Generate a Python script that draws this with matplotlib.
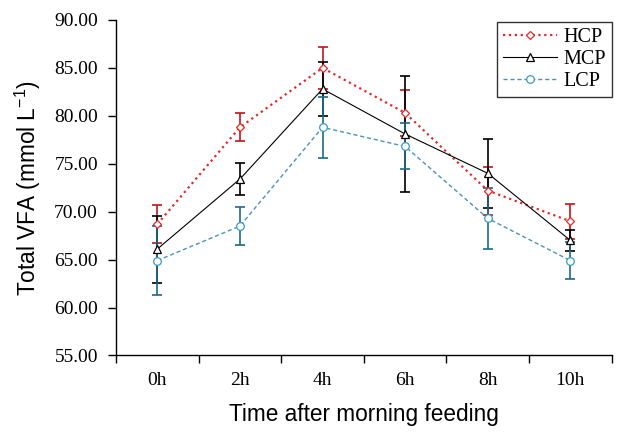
import numpy as np
import matplotlib
matplotlib.use('Agg')
import matplotlib.pyplot as plt

# Data
times = ['0h', '2h', '4h', '6h', '8h', '10h']
hcp = [68.7, 78.8, 85.0, 80.3, 72.2, 69.0]
hcp_err = [2.0, 1.45, 2.2, 2.4, 2.5, 1.85]
mcp = [66.1, 73.4, 82.8, 78.1, 74.0, 67.0]
mcp_err = [3.5, 1.7, 2.8, 6.0, 3.6, 1.05]
lcp = [64.9, 68.5, 78.8, 76.8, 69.3, 64.9]
lcp_err = [3.6, 2.0, 3.2, 2.4, 3.2, 1.9]

serif = 'Liberation Serif'
sans = 'Liberation Sans'

fig = plt.figure(figsize=(6.27, 4.33), dpi=100)
ax = fig.add_axes([0.185, 0.179, 0.7906, 0.775])

x = np.arange(len(times))

# HCP - red dotted, diamonds
ax.errorbar(x, hcp, yerr=hcp_err, fmt='none', ecolor='#c0141c',
            elinewidth=1.2, capsize=3.5, capthick=1.2, zorder=2)
ax.plot(x, hcp, linestyle=':', color='#e02a2a', linewidth=1.6,
        marker='D', markersize=4.5, markerfacecolor='white',
        markeredgecolor='#e02a2a', markeredgewidth=0.9, label='HCP', zorder=3)

# MCP - black solid, triangles
ax.errorbar(x, mcp, yerr=mcp_err, fmt='none', ecolor='black',
            elinewidth=1.2, capsize=3.5, capthick=1.2, zorder=2)
ax.plot(x, mcp, linestyle='-', color='black', linewidth=0.8,
        marker='^', markersize=5.5, markerfacecolor='white',
        markeredgecolor='black', markeredgewidth=0.9, label='MCP', zorder=3)

# LCP - blue dashed, circles
ax.errorbar(x, lcp, yerr=lcp_err, fmt='none', ecolor='#1d6b86',
            elinewidth=1.2, capsize=3.5, capthick=1.2, zorder=2)
ax.plot(x, lcp, linestyle=(0, (3, 2)), color='#4a94b8', linewidth=1.0,
        marker='o', markersize=5.5, markerfacecolor='white',
        markeredgecolor='#3a9ac4', markeredgewidth=0.9, label='LCP', zorder=3)

# axes styling
ax.set_xlim(-0.5, len(times) - 0.5)
ax.set_ylim(55, 90)
ax.set_yticks(np.arange(55, 90.1, 5))
ax.set_yticklabels(['%.2f' % v for v in np.arange(55, 90.1, 5)],
                   fontfamily=serif, fontsize=14)
ax.set_xticks(x)
ax.set_xticklabels(times, fontfamily=serif, fontsize=14)
ax.set_xticks(np.arange(-0.5, len(times)), minor=True)
ax.tick_params(axis='x', which='major', length=0, pad=12)
ax.tick_params(axis='x', which='minor', length=6, width=1, direction='out')
ax.tick_params(axis='y', length=6, width=1, direction='out', pad=7)

for side in ['top', 'right']:
    ax.spines[side].set_visible(False)
for side in ['left', 'bottom']:
    ax.spines[side].set_linewidth(1.0)

ax.set_xlabel('Time after morning feeding', fontfamily=sans, fontsize=16.3,
              labelpad=10)
ax.set_ylabel('Total VFA (mmol L$^{\\mathregular{-1}}$)', fontfamily=sans,
              fontsize=16.3, labelpad=8)

leg = ax.legend(loc='upper right', bbox_to_anchor=(1.0, 0.995),
                prop={'family': serif, 'size': 14.5}, frameon=True,
                fancybox=False, edgecolor='black', handlelength=2.7,
                borderpad=0.3, labelspacing=0.15, handletextpad=0.3,
                borderaxespad=0.0)
leg.get_frame().set_linewidth(1.0)

fig.savefig('out.png', dpi=100)
